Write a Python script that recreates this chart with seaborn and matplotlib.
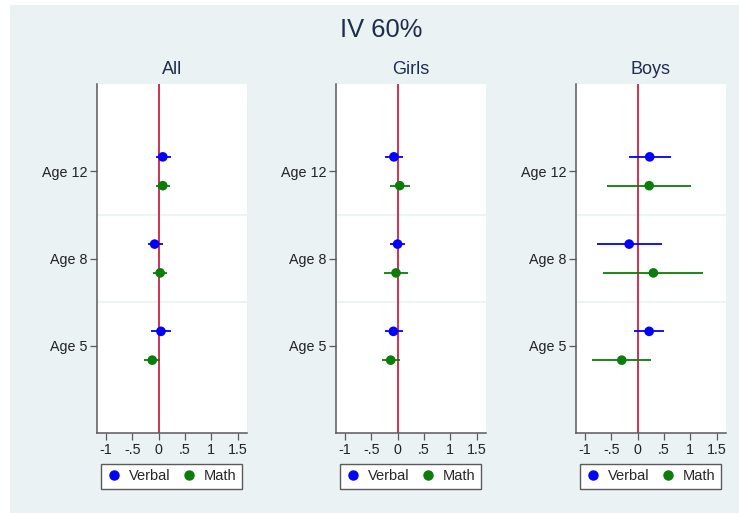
import numpy as np
import pandas as pd
import matplotlib
matplotlib.use("Agg")
import matplotlib.pyplot as plt
from matplotlib.patches import Rectangle
import seaborn as sns

#%% data (IV estimates with confidence intervals)
ages = ["Age 5", "Age 8", "Age 12"]
groups = ["All", "Girls", "Boys"]
outcomes = ["Verbal", "Math"]

# point estimates, order: Age 5, Age 8, Age 12
all_verbal = [0.045, -0.075, 0.08]
all_math = [-0.12, 0.03, 0.08]
girls_verbal = [-0.08, 0.0, -0.07]
girls_math = [-0.13, -0.03, 0.04]
boys_verbal = [0.22, -0.16, 0.23]
boys_math = [-0.30, 0.30, 0.22]

# lower / upper bounds
all_verbal_lo = [-0.14, -0.21, -0.05]
all_verbal_hi = [0.23, 0.075, 0.23]
all_math_lo = [-0.27, -0.10, -0.05]
all_math_hi = [0.03, 0.16, 0.22]
girls_verbal_lo = [-0.24, -0.14, -0.24]
girls_verbal_hi = [0.10, 0.14, 0.11]
girls_math_lo = [-0.30, -0.25, -0.15]
girls_math_hi = [0.04, 0.20, 0.23]
boys_verbal_lo = [-0.07, -0.78, -0.16]
boys_verbal_hi = [0.50, 0.47, 0.63]
boys_math_lo = [-0.86, -0.65, -0.58]
boys_math_hi = [0.25, 1.25, 1.01]

xticks = [-1, -0.5, 0, 0.5, 1, 1.5]
xtick_labels = ["-1", "-.5", "0", ".5", "1", "1.5"]

#%% build a tidy table
est = {"All": (all_verbal, all_math), "Girls": (girls_verbal, girls_math), "Boys": (boys_verbal, boys_math)}
lo = {"All": (all_verbal_lo, all_math_lo), "Girls": (girls_verbal_lo, girls_math_lo), "Boys": (boys_verbal_lo, boys_math_lo)}
hi = {"All": (all_verbal_hi, all_math_hi), "Girls": (girls_verbal_hi, girls_math_hi), "Boys": (boys_verbal_hi, boys_math_hi)}

rows = []
for g in groups:
    for k, o in enumerate(outcomes):
        for i, a in enumerate(ages):
            rows.append({"group": g, "outcome": o, "age": a, "age_idx": i,
                         "est": est[g][k][i], "lo": lo[g][k][i], "hi": hi[g][k][i]})
df = pd.DataFrame(rows)
offset = {"Verbal": 0.165, "Math": -0.165}
df["ypos"] = df["age_idx"] + df["outcome"].map(offset)

#%% style
sns.set_theme(style="white")
plt.rcParams["font.family"] = ["Liberation Sans", "DejaVu Sans"]

bg = "#eaf2f3"
title_col = "#1f2d4d"
palette = {"Verbal": "#0000ff", "Math": "#0a7d0a"}
zero_col = "#d2304f"
axis_col = "#5a5a5a"

W, H = 739, 513
fig = plt.figure(figsize=(W / 100, H / 100), dpi=100, facecolor="white")
fig.patches.append(Rectangle((10 / W, 0), 729 / W, 508 / H, transform=fig.transFigure,
                             facecolor=bg, edgecolor="none", zorder=-10))

fig.text(381 / W, 1 - 37 / H, "IV 60%", ha="center", va="baseline", fontsize=18.4, color=title_col)

lefts = [97, 336, 576]
for g, left in zip(groups, lefts):
    ax = fig.add_axes([left / W, (H - 433) / H, 150 / W, 349 / H])
    ax.set_facecolor("white")
    sub = df[df["group"] == g]

    # gridlines between age groups
    for yv in [0.5, 1.5]:
        ax.axhline(yv, color=bg, lw=1.2, zorder=1)
    ax.axvline(0, color=zero_col, lw=1.4, zorder=2)

    for o in outcomes:
        s = sub[sub["outcome"] == o]
        ax.hlines(s["ypos"], s["lo"], s["hi"], color=palette[o], lw=1.3, zorder=3)
    sns.scatterplot(data=sub, x="est", y="ypos", hue="outcome", hue_order=outcomes,
                    palette=palette, s=48, edgecolor="none", ax=ax, zorder=4, legend=False)

    ax.set_xlim(-1.17, 1.68)
    ax.set_ylim(-1, 3)
    ax.set_xticks(xticks)
    ax.set_xticklabels(xtick_labels)
    ax.set_yticks(range(len(ages)))
    ax.set_yticklabels(ages)
    ax.set_xlabel("")
    ax.set_ylabel("")
    ax.set_title(g, fontsize=13, color=title_col, pad=7)

    for sp in ["top", "right"]:
        ax.spines[sp].set_visible(False)
    for sp in ["left", "bottom"]:
        ax.spines[sp].set_color(axis_col)
        ax.spines[sp].set_linewidth(1.1)
    ax.tick_params(axis="both", which="both", direction="out", length=5, width=0.9,
                   color=axis_col, labelsize=10.3, labelcolor="#222222", pad=2,
                   bottom=True, left=True)

    handles = [plt.Line2D([], [], marker="o", ls="none", color=palette[o], markersize=6.5) for o in outcomes]
    leg = fig.legend(handles, outcomes, loc="center", ncol=2, mode="expand",
                     bbox_to_anchor=((left + 4) / W, (H - 489) / H, 141 / W, 25 / H),
                     bbox_transform=fig.transFigure, frameon=True, fancybox=False,
                     fontsize=10.5, handletextpad=0.5, columnspacing=1.0, borderpad=0.4,
                     borderaxespad=0, handlelength=1.0)
    leg.get_frame().set_edgecolor(axis_col)
    leg.get_frame().set_linewidth(1.0)
    leg.get_frame().set_facecolor("white")
    leg.get_frame().set_alpha(1)

fig.savefig("out.png", dpi=100, facecolor=fig.get_facecolor())
